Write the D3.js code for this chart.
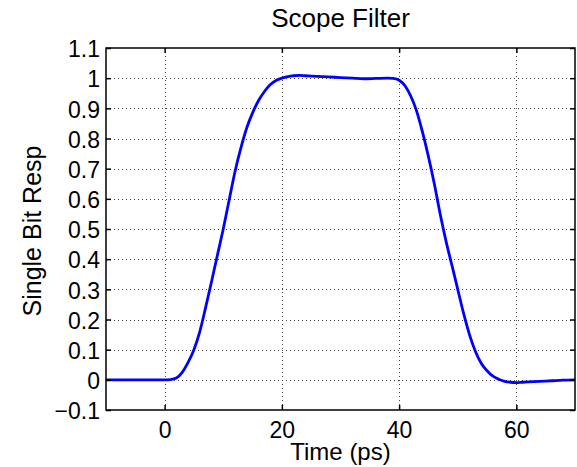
<!DOCTYPE html>
<html>
<head>
<meta charset="utf-8">
<script src="https://cdn.jsdelivr.net/npm/d3@7"></script>
<style>
  body { margin: 0; background: #fff; }
  text { font-family: "Liberation Sans", Arial, sans-serif; fill: #000; }
</style>
</head>
<body>
<div class="chart-area"></div>
<script>
// Scope filter single bit response

// ---- Data ----
const timePs = [-10, -5, 0, 1, 2, 3, 4, 5, 6, 7, 8, 9, 10, 11, 12, 13, 14, 15, 16, 17, 18, 19, 20,
  21, 22, 23, 24, 26, 28, 30, 32, 34, 36, 38, 39, 40, 41, 42, 43, 44, 45, 46, 47, 48, 49, 50,
  51, 52, 53, 54, 55, 56, 57, 58, 59, 60, 61, 62, 64, 66, 68, 70];
const resp = [0, 0, 0, 0.001, 0.006, 0.025, 0.058, 0.1, 0.16, 0.24, 0.325, 0.413, 0.5, 0.595, 0.69,
  0.768, 0.835, 0.885, 0.925, 0.955, 0.978, 0.992, 1.0,
  1.005, 1.008, 1.009, 1.008, 1.006, 1.004, 1.002, 1.0, 0.998, 0.999, 1.0, 0.999, 0.993, 0.975,
  0.94, 0.89, 0.82, 0.74, 0.65, 0.55, 0.46, 0.38, 0.3,
  0.22, 0.15, 0.095, 0.055, 0.03, 0.012, 0.002, -0.005, -0.008, -0.009, -0.008, -0.007, -0.005,
  -0.003, -0.001, 0];
const xTicks = [0, 20, 40, 60];
const yTicks = [-0.1, 0, 0.1, 0.2, 0.3, 0.4, 0.5, 0.6, 0.7, 0.8, 0.9, 1, 1.1];

const data = timePs.map((t, i) => ({ t: t, v: resp[i] }));

// ---- Sizes ----
const svgWidth = 577, svgHeight = 467;
const plotLeft = 106, plotRight = 575, plotTop = 48, plotBottom = 410;

const svg = d3.select(".chart-area").append("svg")
    .attr("width", svgWidth)
    .attr("height", svgHeight);

const x = d3.scaleLinear().domain([-10, 70]).range([plotLeft, plotRight]);
const y = d3.scaleLinear().domain([-0.1, 1.1]).range([plotBottom, plotTop]);

// grid
const grid = svg.append("g")
    .attr("stroke", "#444")
    .attr("stroke-width", 1)
    .attr("stroke-dasharray", "1,3");

grid.selectAll("line.gx")
    .data(xTicks)
    .join("line")
    .attr("class", "gx")
    .attr("x1", d => Math.round(x(d)) + 0.5)
    .attr("x2", d => Math.round(x(d)) + 0.5)
    .attr("y1", plotTop)
    .attr("y2", plotBottom);

grid.selectAll("line.gy")
    .data(yTicks.slice(1, -1))
    .join("line")
    .attr("class", "gy")
    .attr("y1", d => Math.round(y(d)) + 0.5)
    .attr("y2", d => Math.round(y(d)) + 0.5)
    .attr("x1", plotLeft)
    .attr("x2", plotRight);

// curve
svg.append("clipPath").attr("id", "clip")
    .append("rect")
    .attr("x", plotLeft).attr("y", plotTop)
    .attr("width", plotRight - plotLeft).attr("height", plotBottom - plotTop);

svg.append("path")
    .datum(data)
    .attr("clip-path", "url(#clip)")
    .attr("fill", "none")
    .attr("stroke", "#0000ff")
    .attr("stroke-width", 2.8)
    .attr("stroke-linejoin", "round")
    .attr("d", d3.line().x(d => x(d.t)).y(d => y(d.v)).curve(d3.curveMonotoneX));

// box
svg.append("rect")
    .attr("x", plotLeft).attr("y", plotTop)
    .attr("width", plotRight - plotLeft).attr("height", plotBottom - plotTop)
    .attr("fill", "none")
    .attr("stroke", "#000")
    .attr("stroke-width", 1.5);

// axes (ticks inward, on all four sides)
const fmtY = d => d3.format(".1~f")(d).replace("-", "\u2212");

svg.append("g")
    .attr("transform", `translate(0,${plotBottom})`)
    .call(d3.axisBottom(x).tickValues(xTicks).tickSizeInner(-5).tickSizeOuter(0).tickPadding(12))
    .call(g => g.select(".domain").remove());
svg.append("g")
    .attr("transform", `translate(0,${plotTop})`)
    .call(d3.axisTop(x).tickValues(xTicks).tickSizeInner(-5).tickSizeOuter(0).tickFormat(""))
    .call(g => g.select(".domain").remove());
svg.append("g")
    .attr("class", "yaxis")
    .attr("transform", `translate(${plotLeft},0)`)
    .call(d3.axisLeft(y).tickValues(yTicks).tickSizeInner(-5).tickSizeOuter(0).tickPadding(6).tickFormat(fmtY))
    .call(g => g.select(".domain").remove());
svg.append("g")
    .attr("transform", `translate(${plotRight},0)`)
    .call(d3.axisRight(y).tickValues(yTicks).tickSizeInner(-5).tickSizeOuter(0).tickFormat(""))
    .call(g => g.select(".domain").remove());

svg.selectAll(".tick line").attr("stroke", "#000").attr("stroke-width", 1.5);
svg.selectAll(".tick text")
    .style("font-family", "'Liberation Sans', Arial, sans-serif")
    .style("font-size", "23px")
    .attr("fill", "#000");
svg.selectAll(".yaxis .tick text").attr("dy", "0.38em");

// labels
svg.append("text")
    .attr("x", (plotLeft + plotRight) / 2)
    .attr("y", 27)
    .attr("text-anchor", "middle")
    .style("font-size", "26px")
    .text("Scope Filter");

svg.append("text")
    .attr("x", (plotLeft + plotRight) / 2)
    .attr("y", 460)
    .attr("text-anchor", "middle")
    .style("font-size", "24px")
    .text("Time (ps)");

svg.append("text")
    .attr("transform", `translate(41,${(plotTop + plotBottom) / 2 + 2}) rotate(-90)`)
    .attr("text-anchor", "middle")
    .style("font-size", "25px")
    .text("Single Bit Resp");
</script>
</body>
</html>
